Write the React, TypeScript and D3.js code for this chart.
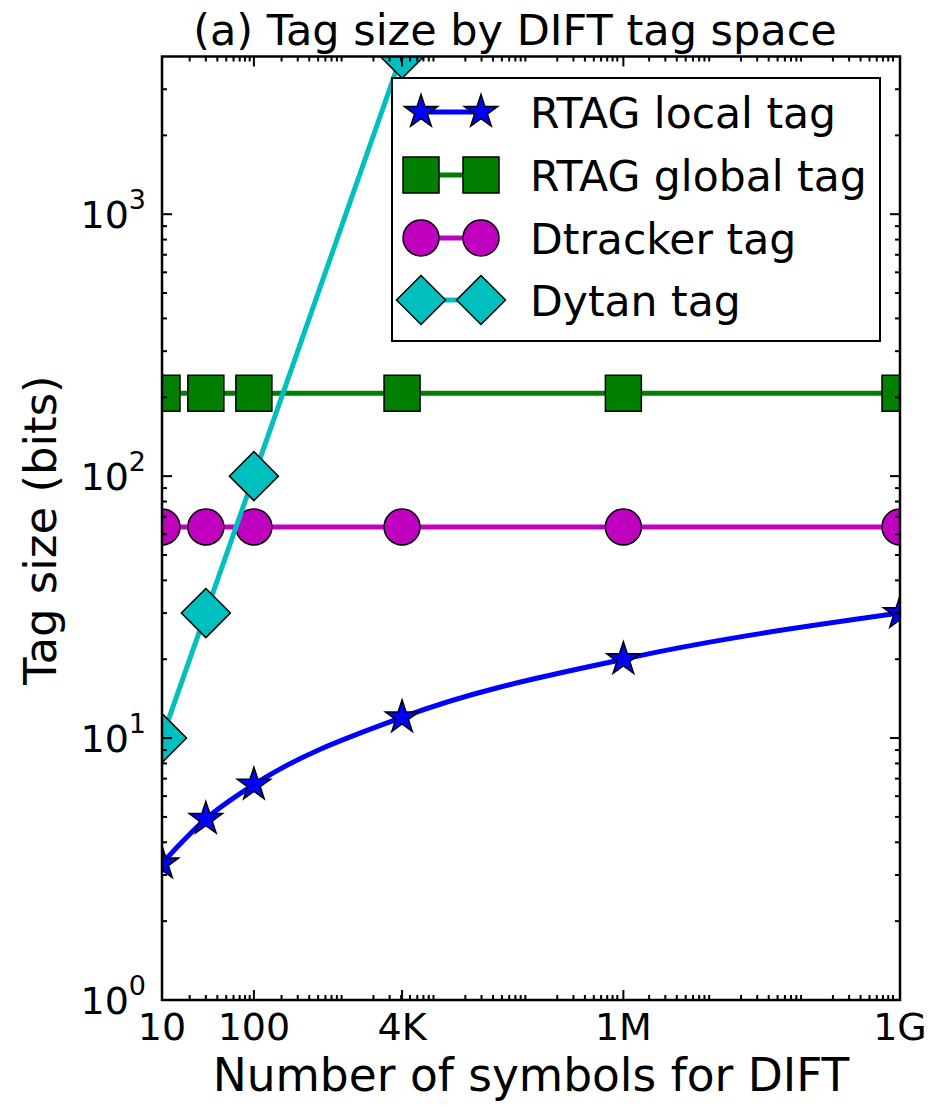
import React, { useEffect, useRef } from "react";
import * as d3 from "d3";

const symbols = [10, 30, 100, 4096, 1048576, 1073741824];
const xTickValues = [10, 100, 4096, 1048576, 1073741824];
const xTickLabels = ["10", "100", "4K", "1M", "1G"];
const yTickValues = [1, 10, 100, 1000];
const yTickExponents = ["0", "1", "2", "3"];
const rtagLocal = [3.32, 4.91, 6.64, 12, 20, 30];
const rtagGlobal = [207, 207, 207, 207, 207, 207];
const dtracker = [64, 64, 64, 64, 64, 64];
const dytan = [10, 30, 100, 4096];
const seriesNames = ["RTAG local tag", "RTAG global tag", "Dtracker tag", "Dytan tag"];
const seriesColors = ["#0000ff", "#007f00", "#bf00bf", "#00bfbf"];
const seriesMarkers = ["star", "square", "circle", "diamond"];

const W = 936;
const H = 1106;
const L = 162, R = 900, T = 56.5, B = 1000;
const FONT = "DejaVu Sans";

function markerPath(kind: string): string {
  if (kind === "star") {
    const Ro = 17.5, Ri = Ro * 0.382;
    const pts: [number, number][] = [];
    for (let i = 0; i < 10; i++) {
      const r = i % 2 === 0 ? Ro : Ri;
      const a = -Math.PI / 2 + (i * Math.PI) / 5;
      pts.push([r * Math.cos(a), r * Math.sin(a)]);
    }
    return "M" + pts.map((p) => p.join(",")).join("L") + "Z";
  }
  if (kind === "square") {
    const s = 18;
    return `M${-s},${-s}L${s},${-s}L${s},${s}L${-s},${s}Z`;
  }
  if (kind === "circle") {
    const r = 18;
    return `M${r},0A${r},${r} 0 1,1 ${-r},0A${r},${r} 0 1,1 ${r},0Z`;
  }
  const d = 24.5;
  return `M0,${-d}L${d},0L0,${d}L${-d},0Z`;
}

export default function App() {
  const ref = useRef<SVGSVGElement | null>(null);

  useEffect(() => {
    const svg = d3.select(ref.current);
    svg.selectAll("*").remove();

    const x = d3.scaleLog().domain([10, 1073741824]).range([L, R]);
    const y = d3.scaleLog().domain([1, 4000]).range([B, T]);

    svg.append("rect").attr("width", W).attr("height", H).attr("fill", "white");

    svg.append("defs").append("clipPath").attr("id", "plotclip")
      .append("rect").attr("x", L).attr("y", T).attr("width", R - L).attr("height", B - T);

    const plot = svg.append("g").attr("clip-path", "url(#plotclip)");

    const series = [rtagLocal, rtagGlobal, dtracker, dytan];
    series.forEach((vals, i) => {
      const pts = vals.map((v, j) => [symbols[j], v] as [number, number]);
      const line = d3.line<[number, number]>()
        .x((d) => x(d[0]))
        .y((d) => y(d[1]))
        .curve(i === 0 ? d3.curveMonotoneX : d3.curveLinear);
      plot.append("path").attr("d", line(pts) as string)
        .attr("fill", "none").attr("stroke", seriesColors[i]).attr("stroke-width", 5)
        .attr("stroke-linejoin", "round");
      plot.selectAll(null).data(pts).enter().append("path")
        .attr("d", markerPath(seriesMarkers[i]))
        .attr("transform", (d) => `translate(${x(d[0])},${y(d[1])})`)
        .attr("fill", seriesColors[i]).attr("stroke", "black").attr("stroke-width", 1.5)
        .attr("stroke-linejoin", "miter");
    });

    // ticks
    const axisG = svg.append("g").attr("stroke", "black").attr("stroke-width", 2);
    const xMinor: number[] = [];
    for (let e = 1; e <= 9; e++) for (let k = 2; k <= 9; k++) {
      const v = k * Math.pow(10, e);
      if (v > 10 && v < 1073741824) xMinor.push(v);
    }
    const yMinor: number[] = [];
    for (let e = 0; e <= 3; e++) for (let k = 2; k <= 9; k++) {
      const v = k * Math.pow(10, e);
      if (v < 4000) yMinor.push(v);
    }
    const tick = (x1: number, y1: number, x2: number, y2: number) =>
      axisG.append("line").attr("x1", x1).attr("y1", y1).attr("x2", x2).attr("y2", y2);
    xMinor.forEach((v) => { const px = x(v); tick(px, B, px, B - 5); tick(px, T, px, T + 5); });
    xTickValues.forEach((v) => { const px = x(v); tick(px, B, px, B - 10); tick(px, T, px, T + 10); });
    yMinor.forEach((v) => { const py = y(v); tick(L, py, L + 5, py); tick(R, py, R - 5, py); });
    yTickValues.forEach((v) => { const py = y(v); tick(L, py, L + 10, py); tick(R, py, R - 10, py); });

    svg.append("rect").attr("x", L).attr("y", T).attr("width", R - L).attr("height", B - T)
      .attr("fill", "none").attr("stroke", "black").attr("stroke-width", 2.5);

    // tick labels
    xTickValues.forEach((v, i) => {
      svg.append("text").attr("x", x(v)).attr("y", 1040).attr("text-anchor", "middle")
        .attr("font-family", FONT).attr("font-size", 38).attr("fill", "black").text(xTickLabels[i]);
    });
    yTickValues.forEach((v, i) => {
      const t = svg.append("text").attr("x", 146).attr("y", y(v) + 14).attr("text-anchor", "end")
        .attr("font-family", FONT).attr("font-size", 38).attr("fill", "black");
      t.append("tspan").text("10");
      t.append("tspan").attr("dy", -19).attr("font-size", 27).text(yTickExponents[i]);
    });

    // axis labels + title
    svg.append("text").attr("x", 531).attr("y", 1091).attr("text-anchor", "middle")
      .attr("font-family", FONT).attr("font-size", 45.5).attr("fill", "black")
      .text("Number of symbols for DIFT");
    svg.append("text").attr("transform", `translate(56,530) rotate(-90)`).attr("text-anchor", "middle")
      .attr("font-family", FONT).attr("font-size", 45).attr("fill", "black")
      .text("Tag size (bits)");
    svg.append("text").attr("x", 515).attr("y", 45).attr("text-anchor", "middle")
      .attr("font-family", FONT).attr("font-size", 43).attr("fill", "black")
      .text("(a) Tag size by DIFT tag space");

    // legend
    const lg = svg.append("g");
    lg.append("rect").attr("x", 392).attr("y", 78).attr("width", 488).attr("height", 263)
      .attr("fill", "white").attr("stroke", "black").attr("stroke-width", 2);
    const rowY = [112, 175, 238, 300];
    seriesNames.forEach((name, i) => {
      const cy = rowY[i];
      lg.append("line").attr("x1", 421).attr("x2", 481).attr("y1", cy).attr("y2", cy)
        .attr("stroke", seriesColors[i]).attr("stroke-width", 5);
      [421, 481].forEach((mx) => {
        lg.append("path").attr("d", markerPath(seriesMarkers[i]))
          .attr("transform", `translate(${mx},${cy})`)
          .attr("fill", seriesColors[i]).attr("stroke", "black").attr("stroke-width", 1.5);
      });
      lg.append("text").attr("x", 530).attr("y", cy + 15.5).attr("font-family", FONT)
        .attr("font-size", 42.5).attr("fill", "black").text(name);
    });
  }, []);

  return (
    <svg ref={ref} width={W} height={H}
      style={{ position: "absolute", left: 0, top: 0, display: "block" }} />
  );
}
